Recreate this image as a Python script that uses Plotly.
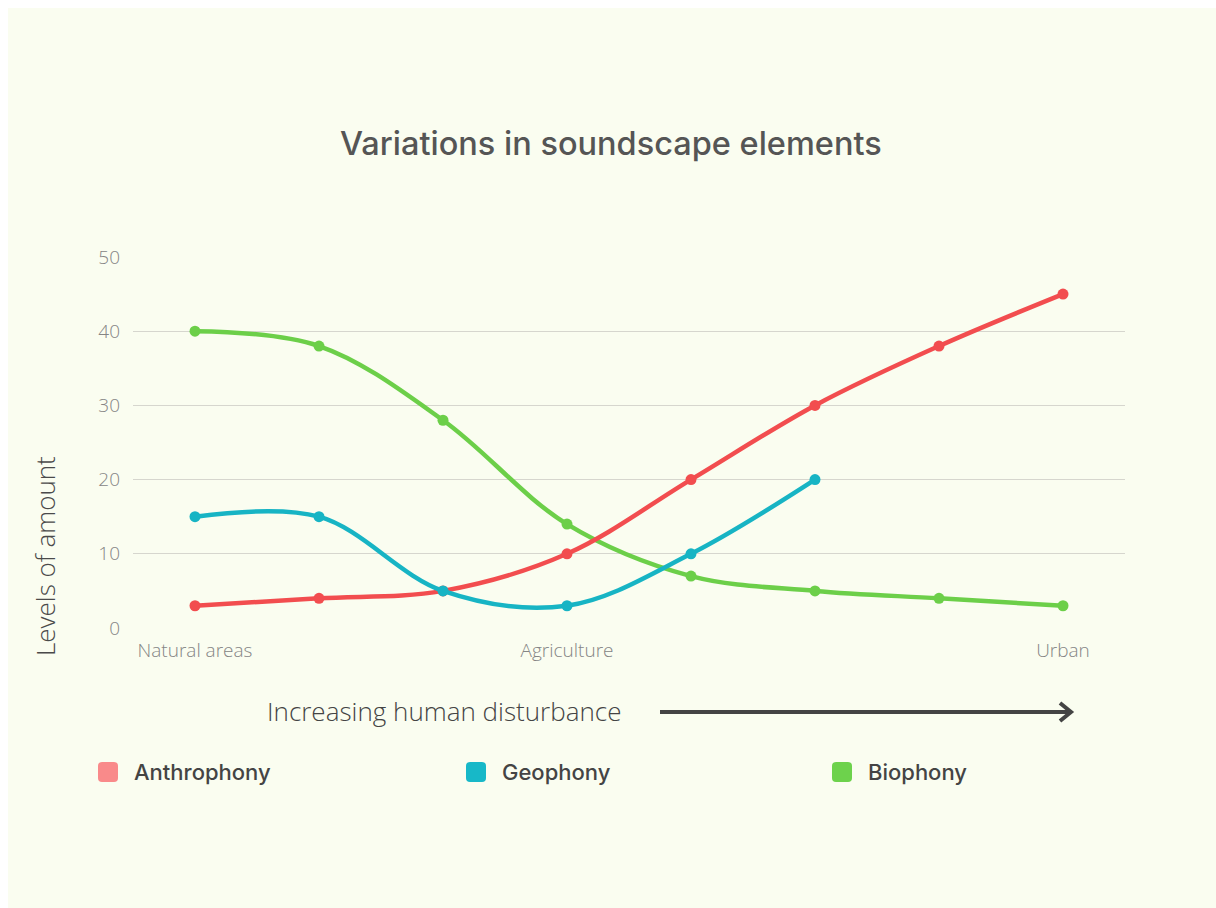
import plotly.graph_objects as go

# Disturbance gradient: eight sampling stages from natural areas to urban sites
stages = [0, 1, 2, 3, 4, 5, 6, 7]
tick_positions = [0, 3, 7]
tick_labels = ["Natural areas", "Agriculture", "Urban"]

series_names = ["Anthrophony", "Geophony", "Biophony"]
anthrophony = [3, 4, 5, 10, 20, 30, 38, 45]
geophony = [15, 15, 5, 3, 10, 20]
biophony = [40, 38, 28, 14, 7, 5, 4, 3]

line_colors = {"Anthrophony": "#f24d4f", "Geophony": "#17b4c4", "Biophony": "#6ccf49"}
swatch_colors = {"Anthrophony": "#f98a8a", "Geophony": "#17b8c8", "Biophony": "#6dd24c"}

W, H = 1216, 908
L, R, T, B = 133, 1125, 257, 628  # plot area in pixels

def px(x):
    return (x - L) / (R - L)

def py(y):
    return (B - y) / (B - T)

fig = go.Figure()

values = {"Anthrophony": anthrophony, "Geophony": geophony, "Biophony": biophony}
for name in ["Biophony", "Anthrophony", "Geophony"]:
    ys = values[name]
    fig.add_trace(go.Scatter(
        x=stages[:len(ys)], y=ys, name=name, mode="lines+markers",
        line=dict(color=line_colors[name], width=4.5, shape="spline", smoothing=1),
        marker=dict(color=line_colors[name], size=11),
        showlegend=False, hoverinfo="x+y+name",
    ))

shapes = []
annotations = []

# cream card with a thin white margin at the top and left
shapes.append(dict(type="rect", xref="paper", yref="paper", layer="below",
                   x0=px(8), x1=px(W + 5), y0=py(H + 5), y1=py(8),
                   fillcolor="#fafdf0", line=dict(width=0)))

# title
annotations.append(dict(text="Variations in soundscape elements", xref="paper", yref="paper",
                        x=px(611), y=py(143), showarrow=False, xanchor="center", yanchor="middle",
                        font=dict(family="Inter", size=32.5, color="#555555", weight=500)))

# y-axis caption
annotations.append(dict(text="Levels of amount", xref="paper", yref="paper",
                        x=px(45), y=py(556), textangle=-90, showarrow=False,
                        xanchor="center", yanchor="middle",
                        font=dict(family="Open Sans", size=26, color="#4a4a4a", weight=300)))

# gradient caption and arrow
annotations.append(dict(text="Increasing human disturbance", xref="paper", yref="paper",
                        x=px(444), y=py(711), showarrow=False, xanchor="center", yanchor="middle",
                        font=dict(family="Open Sans", size=26, color="#444444", weight=300)))
shapes.append(dict(type="line", xref="paper", yref="paper",
                   x0=px(660), x1=px(1070), y0=py(712), y1=py(712),
                   line=dict(color="#444444", width=4)))
shapes.append(dict(type="path", xref="paper", yref="paper",
                   path=f"M {px(1060)} {py(703)} L {px(1071)} {py(712)} L {px(1060)} {py(721)}",
                   line=dict(color="#444444", width=4)))

# legend: rounded swatches with labels
legend_x = {"Anthrophony": 98, "Geophony": 466, "Biophony": 832}
for name in series_names:
    x0 = legend_x[name]
    x1, y0, y1, r = x0 + 20, 762, 782, 4
    path = (f"M {px(x0 + r)} {py(y0)} L {px(x1 - r)} {py(y0)} "
            f"Q {px(x1)} {py(y0)} {px(x1)} {py(y0 + r)} L {px(x1)} {py(y1 - r)} "
            f"Q {px(x1)} {py(y1)} {px(x1 - r)} {py(y1)} L {px(x0 + r)} {py(y1)} "
            f"Q {px(x0)} {py(y1)} {px(x0)} {py(y1 - r)} L {px(x0)} {py(y0 + r)} "
            f"Q {px(x0)} {py(y0)} {px(x0 + r)} {py(y0)} Z")
    shapes.append(dict(type="path", xref="paper", yref="paper", path=path,
                       fillcolor=swatch_colors[name], line=dict(width=0)))
    annotations.append(dict(text=name, xref="paper", yref="paper",
                            x=px(x0 + 34), y=py(772), showarrow=False,
                            xanchor="left", yanchor="middle",
                            font=dict(family="Inter", size=22, color="#444444", weight=500)))

fig.update_layout(
    width=W, height=H,
    margin=dict(l=L, r=W - R, t=T, b=H - B, pad=0),
    paper_bgcolor="#ffffff", plot_bgcolor="rgba(0,0,0,0)",
    shapes=shapes, annotations=annotations, showlegend=False,
    xaxis=dict(range=[-0.5, 7.5], tickmode="array", tickvals=tick_positions, ticktext=tick_labels,
               showgrid=False, zeroline=False, showline=False, ticks="", ticklabelstandoff=9,
               tickfont=dict(family="Open Sans", size=19, color="#858585", weight=300)),
    yaxis=dict(range=[0, 50], tickmode="array", tickvals=[0, 10, 20, 30, 40, 50],
               showgrid=True, gridcolor="#d6d6ce", gridwidth=1.4, zeroline=False,
               showline=False, ticks="", ticklabelstandoff=12,
               tickfont=dict(family="Open Sans", size=19, color="#858585", weight=300)),
)

fig.write_html("out.html")
